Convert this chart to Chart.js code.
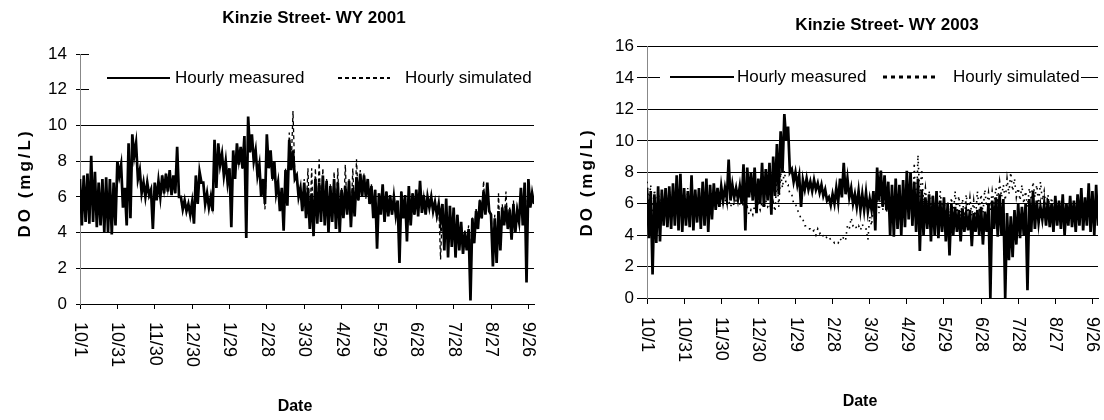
<!DOCTYPE html>
<html>
<head>
<meta charset="utf-8">
<title>Kinzie Street DO</title>
<script src="https://cdn.jsdelivr.net/npm/chart.js@4.4.1/dist/chart.umd.min.js"></script>
<style>
  html, body { margin: 0; padding: 0; background: #fff; }
  #wrap { position: relative; width: 1104px; height: 420px; }
  canvas { position: absolute; top: 0; }
  #c2001 { left: 0; }
  #c2003 { left: 552px; }
</style>
</head>
<body>
<div id="wrap">
  <canvas id="c2001" width="552" height="420"></canvas>
  <canvas id="c2003" width="552" height="420"></canvas>
</div>
<script>
"use strict";

// date ticks, every 30 days from Oct 1
var tickLabels = ["10/1", "10/31", "11/30", "12/30", "1/29", "2/28", "3/30",
	"4/29", "5/29", "6/28", "7/28", "8/27", "9/26"];

// WY 2001 - high / low DO (mg/L) for each 3-day block
var measured2001Hi = [
	7.0, 7.2, 7.3, 8.3, 7.4, 6.8, 7.0, 7.1, 7.0, 6.8,
	8.0, 7.8, 6.5, 9.0, 9.5, 9.0, 7.5, 6.8, 6.8, 6.4,
	6.8, 6.9, 7.2, 7.3, 7.5, 7.2, 8.8, 6.0, 5.8, 5.6,
	5.7, 7.2, 7.4, 6.8, 6.2, 6.0, 9.2, 9.0, 8.4, 8.0,
	7.6, 8.6, 9.0, 8.8, 9.4, 10.5, 9.5, 8.6, 7.8, 7.0,
	9.5, 8.6, 8.0, 6.8, 6.5, 7.5, 9.2, 8.6, 7.2, 6.5,
	6.8, 6.5, 6.2, 7.0, 6.8, 7.2, 6.9, 6.6, 7.0, 6.8,
	6.4, 6.6, 6.9, 6.5, 7.1, 7.3, 7.2, 7.0, 6.6, 6.4,
	6.2, 6.7, 6.3, 6.1, 6.0, 5.8, 6.3, 6.1, 6.6, 6.2,
	6.4, 6.9, 6.1, 6.0, 6.0, 5.7, 5.6, 5.6, 5.9, 5.5,
	5.4, 5.0, 4.6, 4.0, 4.2, 4.8, 5.2, 5.8, 6.3, 6.8,
	5.0, 4.8, 5.2, 5.4, 5.5, 5.3, 5.6, 5.2, 6.5, 6.8,
	7.0, 6.2
];
var measured2001Lo = [
	4.4, 4.6, 4.5, 4.6, 4.3, 4.4, 4.0, 4.0, 3.9, 4.4,
	7.2, 5.4, 4.4, 4.8, 8.3, 7.0, 6.2, 6.0, 6.1, 4.2,
	5.8, 6.0, 6.2, 6.3, 6.1, 6.2, 6.0, 5.3, 5.2, 5.0,
	4.5, 5.6, 6.8, 5.6, 5.4, 5.2, 6.5, 7.8, 7.2, 6.8,
	4.3, 7.0, 7.8, 7.6, 3.7, 8.5, 8.0, 7.2, 6.0, 5.6,
	7.6, 7.0, 6.2, 5.2, 4.1, 5.5, 7.5, 7.0, 6.0, 5.2,
	4.8, 4.2, 3.8, 4.5, 4.6, 4.4, 4.0, 4.6, 4.2, 4.0,
	4.8, 5.0, 4.3, 4.9, 5.8, 6.0, 6.0, 5.6, 4.8, 3.1,
	5.0, 4.6, 4.9, 5.0, 5.0, 2.3, 4.8, 3.5, 4.4, 5.0,
	4.9, 5.1, 5.0, 5.4, 5.2, 5.0, 4.6, 3.0, 2.6, 3.2,
	2.6, 3.0, 2.8, 3.0, 0.2, 3.4, 4.2, 4.8, 5.0, 5.2,
	2.1, 2.3, 3.0, 4.4, 4.2, 3.6, 4.0, 4.6, 4.4, 1.2,
	5.4, 5.6
];
var simulated2001Hi = [
	6.8, 7.0, 7.1, 7.6, 7.2, 6.6, 6.8, 6.9, 6.8, 6.6,
	7.8, 7.6, 6.4, 8.8, 9.3, 8.8, 7.4, 6.7, 6.7, 6.3,
	6.7, 6.8, 7.0, 7.1, 7.3, 7.0, 8.2, 5.9, 5.7, 5.5,
	5.6, 7.0, 7.3, 6.7, 6.1, 5.8, 9.0, 8.8, 8.3, 7.9,
	7.5, 8.5, 8.9, 8.7, 9.2, 10.2, 9.4, 8.5, 7.7, 6.9,
	9.3, 8.5, 7.9, 6.7, 6.4, 7.6, 9.6, 10.8, 7.2, 6.4,
	7.0, 7.6, 7.6, 7.6, 8.1, 7.6, 7.0, 6.7, 7.4, 7.6,
	6.5, 7.8, 7.0, 7.6, 8.1, 7.5, 7.3, 7.0, 6.7, 6.4,
	6.2, 6.6, 6.3, 6.1, 6.0, 5.8, 6.3, 6.1, 6.5, 6.2,
	6.3, 6.7, 6.1, 6.0, 5.9, 5.7, 5.5, 5.5, 5.8, 5.4,
	5.3, 5.0, 4.6, 4.2, 4.4, 4.9, 5.4, 5.9, 6.9, 6.6,
	5.2, 5.0, 6.2, 5.6, 6.3, 5.4, 5.8, 5.4, 6.4, 6.7,
	6.9, 6.1
];
var simulated2001Lo = [
	5.0, 4.8, 4.7, 4.8, 4.5, 4.6, 4.3, 4.2, 4.1, 4.6,
	7.0, 5.6, 4.6, 5.0, 8.2, 7.1, 6.3, 6.1, 6.0, 5.6,
	5.9, 6.1, 6.2, 6.3, 6.2, 6.2, 6.1, 5.3, 5.2, 5.1,
	4.8, 5.7, 6.8, 5.7, 5.5, 5.3, 6.6, 7.8, 7.2, 6.8,
	4.6, 7.0, 7.8, 7.5, 4.2, 8.4, 8.0, 7.1, 6.0, 5.3,
	7.6, 6.9, 6.2, 5.3, 4.4, 5.6, 7.6, 7.2, 6.0, 5.3,
	5.0, 4.6, 4.2, 4.6, 4.8, 4.5, 4.3, 4.8, 4.4, 4.2,
	4.9, 5.1, 4.5, 5.0, 5.8, 6.0, 5.9, 5.6, 5.0, 3.6,
	5.1, 4.8, 5.0, 5.0, 5.1, 3.0, 4.9, 3.9, 4.6, 5.0,
	5.0, 5.2, 5.1, 5.4, 5.2, 4.8, 2.5, 3.2, 2.9, 3.4,
	2.9, 3.2, 3.0, 3.2, 3.0, 3.6, 4.3, 4.8, 5.0, 5.2,
	2.8, 2.9, 3.4, 4.5, 4.3, 3.9, 4.2, 4.6, 4.6, 4.8,
	5.4, 5.6
];

// WY 2003 - high / low DO (mg/L) for each 3-day block
var measured2003Hi = [
	7.0, 6.8, 6.6, 7.1, 6.9, 7.0, 7.1, 7.3, 7.8, 7.9,
	7.0, 6.8, 7.8, 6.9, 7.0, 7.4, 7.6, 7.2, 7.3, 7.0,
	7.1, 7.0, 8.8, 7.2, 7.0, 7.1, 8.5, 8.3, 8.0, 8.3,
	7.6, 8.6, 8.2, 8.6, 9.0, 9.8, 10.6, 11.7, 10.9, 8.2,
	8.0, 7.8, 7.5, 7.6, 7.4, 7.5, 7.3, 7.2, 6.9, 6.4,
	6.6, 7.0, 7.6, 8.6, 7.6, 7.0, 6.6, 6.8, 6.6, 6.7,
	6.3, 6.8, 8.3, 8.1, 7.8, 7.4, 7.2, 7.6, 7.2, 7.5,
	8.1, 8.0, 7.4, 7.6, 6.9, 6.4, 6.6, 6.5, 6.8, 6.2,
	6.4, 6.0, 6.0, 5.8, 5.6, 5.7, 5.4, 5.6, 5.4, 5.6,
	5.8, 5.5, 6.0, 6.2, 6.4, 6.6, 6.3, 5.4, 5.2, 5.6,
	6.0, 5.8, 6.0, 6.3, 6.8, 6.2, 5.8, 6.0, 6.3, 6.0,
	6.5, 6.2, 6.6, 6.0, 6.5, 6.2, 6.6, 7.0, 6.4, 7.3,
	6.8, 7.2
];
var measured2003Lo = [
	3.8, 1.5, 3.5, 3.6, 4.6, 4.5, 4.4, 4.6, 4.3, 4.2,
	4.6, 4.5, 4.3, 4.8, 4.4, 4.6, 4.2, 5.0, 5.6, 5.8,
	6.2, 6.3, 6.2, 6.4, 6.3, 6.0, 4.3, 6.4, 6.2, 5.4,
	6.0, 5.8, 6.2, 5.3, 6.5, 6.6, 8.0, 10.0, 8.0, 7.4,
	7.2, 5.8, 6.9, 6.9, 6.8, 6.9, 6.7, 6.5, 6.2, 5.9,
	6.0, 6.1, 6.4, 6.6, 6.4, 6.0, 5.8, 5.6, 5.6, 5.5,
	5.6, 4.3, 6.2, 5.8, 5.6, 4.0, 3.9, 4.4, 4.0, 4.5,
	5.0, 4.6, 4.2, 3.0, 4.0, 4.4, 3.6, 4.0, 3.8, 4.2,
	3.6, 2.7, 4.0, 4.2, 3.6, 4.2, 4.3, 3.3, 4.2, 4.0,
	3.4, 4.2, 0.0, 4.4, 3.9, 4.0, 0.0, 2.4, 2.6, 3.4,
	3.8, 4.0, 0.5, 4.2, 4.4, 4.8, 5.0, 4.6, 4.5, 4.2,
	4.6, 4.4, 4.0, 4.6, 4.5, 4.2, 4.6, 4.3, 4.6, 4.2,
	4.0, 4.6
];
var simulated2003Hi = [
	7.4, 7.2, 6.9, 7.0, 6.8, 6.9, 7.0, 6.8, 7.0, 6.9,
	6.8, 7.0, 7.1, 6.8, 6.9, 7.0, 6.9, 7.0, 6.6, 6.5,
	6.4, 6.3, 6.2, 6.1, 6.2, 6.0, 6.0, 5.8, 5.6, 5.9,
	6.0, 6.1, 6.2, 6.0, 6.1, 7.8, 8.0, 8.1, 7.2, 6.6,
	6.0, 5.4, 5.0, 4.6, 4.4, 4.3, 4.4, 4.2, 4.0, 3.9,
	3.7, 3.6, 3.8, 3.9, 4.6, 5.1, 4.7, 4.6, 4.7, 4.4,
	5.2, 5.8, 6.6, 6.8, 6.4, 6.2, 6.6, 7.0, 6.8, 7.4,
	7.6, 8.0, 8.6, 9.1, 8.2, 7.0, 6.8, 6.6, 6.4, 6.8,
	6.5, 6.2, 6.4, 6.8, 6.5, 6.3, 6.6, 6.4, 6.2, 6.8,
	6.6, 6.9, 6.7, 6.8, 7.0, 7.4, 7.2, 7.6, 8.0, 7.6,
	7.0, 7.2, 6.8, 7.0, 7.4, 7.2, 7.4, 6.8, 6.6, 6.4,
	6.2, 6.0, 6.1, 5.9, 6.0, 5.8, 6.1, 6.0, 5.9, 6.2,
	6.0, 6.1
];
var simulated2003Lo = [
	5.8, 5.0, 5.6, 5.4, 5.2, 5.6, 5.4, 5.6, 5.5, 5.6,
	5.4, 5.5, 5.6, 5.5, 5.8, 5.6, 5.8, 5.9, 6.0, 5.8,
	6.0, 5.9, 5.8, 5.9, 6.0, 5.8, 5.6, 5.3, 5.3, 5.5,
	5.6, 5.7, 5.8, 5.6, 5.5, 5.8, 7.0, 7.2, 6.6, 6.0,
	5.6, 5.0, 4.6, 4.4, 4.2, 4.0, 4.1, 3.9, 3.8, 3.7,
	3.5, 3.5, 3.6, 3.7, 4.4, 4.6, 4.4, 4.3, 4.4, 3.7,
	4.6, 5.0, 5.4, 5.6, 5.4, 5.2, 5.0, 5.2, 4.8, 5.4,
	5.2, 4.6, 5.0, 6.4, 6.0, 5.6, 5.4, 5.0, 5.2, 5.4,
	5.0, 4.8, 5.2, 5.4, 5.2, 5.0, 5.4, 5.2, 5.0, 5.6,
	5.4, 5.8, 5.6, 6.0, 6.2, 6.4, 6.2, 6.6, 6.8, 6.4,
	6.2, 6.0, 5.8, 6.2, 6.4, 6.0, 6.2, 5.8, 5.6, 5.4,
	5.5, 5.4, 5.3, 5.2, 5.3, 5.2, 5.4, 5.3, 5.2, 5.4,
	5.3, 5.5
];

var FONT = "'Liberation Sans', Arial, sans-serif";
Chart.defaults.font.family = FONT;
Chart.defaults.color = "#000";

// hourly swing: each 3-day block runs up to its high, then down to its low
function swing(hi, lo) {
	var pts = [];
	for (var i = 0; i < hi.length; i++) {
		pts.push({ x: i * 3, y: hi[i] });
		pts.push({ x: i * 3 + 1.5, y: lo[i] });
	}
	return pts;
}

// titles, legend box and the downward-reading date labels
var figText = {
	id: "figText",
	beforeDatasetsDraw: function(chart, args, o) {
		var ctx = chart.ctx;
		var lg = o.legend;
		ctx.save();
		ctx.fillStyle = "#fff";
		ctx.fillRect(lg.box[0], lg.box[1], lg.box[2], lg.box[3]);
		ctx.strokeStyle = "#000";
		ctx.fillStyle = "#000";
		ctx.font = "17px " + FONT;
		ctx.textBaseline = "middle";
		lg.items.forEach(function(it) {
			ctx.lineWidth = it.width;
			ctx.setLineDash(it.dash);
			ctx.beginPath();
			ctx.moveTo(it.x0, lg.y);
			ctx.lineTo(it.x1, lg.y);
			ctx.stroke();
			ctx.fillText(it.text, it.tx, lg.y);
		});
		ctx.restore();
	},
	afterDraw: function(chart, args, o) {
		var ctx = chart.ctx;
		ctx.save();
		ctx.fillStyle = "#000";
		ctx.textAlign = "center";
		ctx.textBaseline = "middle";
		ctx.font = "bold 17px " + FONT;
		ctx.fillText(o.title, o.titleX, o.titleY);
		ctx.font = "bold 16px " + FONT;
		ctx.fillText("Date", o.dateX, o.dateY);

		// y title, bottom to top, spaced out
		ctx.save();
		ctx.translate(o.yTitleX, o.yTitleY);
		ctx.rotate(-Math.PI / 2);
		ctx.font = "bold 17px " + FONT;
		ctx.letterSpacing = "3px";
		ctx.fillText("DO (mg/L)", 0, 0);
		ctx.restore();

		// date labels turned clockwise
		var xs = chart.scales.x;
		ctx.font = "18px " + FONT;
		ctx.textAlign = "left";
		xs.ticks.forEach(function(t, i) {
			var px = xs.getPixelForTick(i);
			ctx.save();
			ctx.translate(px, o.tickTop);
			ctx.rotate(Math.PI / 2);
			ctx.fillText(tickLabels[Math.round(t.value / 30)], 0, 0);
			ctx.restore();
		});
		ctx.restore();
	}
};

function makeChart(id, cfg) {
	return new Chart(document.getElementById(id), {
		type: "line",
		data: {
			datasets: [
				{
					label: "Hourly measured",
					data: swing(cfg.mHi, cfg.mLo),
					borderColor: "#000",
					borderWidth: 2.7,
					pointRadius: 0,
					tension: 0
				},
				{
					label: "Hourly simulated",
					data: swing(cfg.sHi, cfg.sLo),
					borderColor: "#000",
					borderWidth: cfg.simWidth,
					borderDash: cfg.simDash,
					pointRadius: 0,
					tension: 0
				}
			]
		},
		options: {
			responsive: false,
			animation: false,
			layout: { padding: cfg.pad },
			plugins: {
				legend: { display: false },
				tooltip: { enabled: false },
				figText: cfg.text
			},
			scales: {
				x: {
					type: "linear",
					min: 0,
					max: 364.5,
					ticks: { display: false, stepSize: 30, includeBounds: false },
					grid: { drawOnChartArea: false, color: "#000", tickLength: cfg.xTick },
					border: { color: "#000" },
					afterFit: function(s) { s.height = 0; }
				},
				y: {
					min: 0,
					max: cfg.yMax,
					ticks: { stepSize: 2, padding: cfg.yPad, font: { size: 17 } },
					grid: { color: "#000", tickLength: cfg.yTick },
					border: { color: "#888" },
					afterFit: function(s) { s.width = cfg.yWidth; }
				}
			}
		},
		plugins: [figText]
	});
}

var chart2001 = makeChart("c2001", {
	mHi: measured2001Hi, mLo: measured2001Lo,
	sHi: simulated2001Hi, sLo: simulated2001Lo,
	simWidth: 1.3, simDash: [4, 3],
	pad: { left: 0, right: 18, top: 54, bottom: 116 },
	yWidth: 80, yMax: 14, yTick: 4, yPad: 9, xTick: 5,
	text: {
		title: "Kinzie Street- WY 2001", titleX: 314, titleY: 18,
		dateX: 295, dateY: 407, yTitleX: 25, yTitleY: 183, tickTop: 322,
		legend: {
			box: [89, 49, 447, 58], y: 78,
			items: [
				{ x0: 107, x1: 170, tx: 175, text: "Hourly measured", width: 2, dash: [] },
				{ x0: 338, x1: 390, tx: 405, text: "Hourly simulated", width: 2, dash: [4, 3] }
			]
		}
	}
});

var chart2003 = makeChart("c2003", {
	mHi: measured2003Hi, mLo: measured2003Lo,
	sHi: simulated2003Hi, sLo: simulated2003Lo,
	simWidth: 1.6, simDash: [1.6, 4.4],
	pad: { left: 0, right: 6, top: 46.5, bottom: 122 },
	yWidth: 95, yMax: 16, yTick: 10, yPad: 3, xTick: 6,
	text: {
		title: "Kinzie Street- WY 2003", titleX: 335, titleY: 25,
		dateX: 308, dateY: 402, yTitleX: 35, yTitleY: 182, tickTop: 317,
		legend: {
			box: [108, 62, 421, 32], y: 77,
			items: [
				{ x0: 118, x1: 182, tx: 185, text: "Hourly measured", width: 2, dash: [] },
				{ x0: 331, x1: 385, tx: 401, text: "Hourly simulated", width: 3, dash: [4, 4] }
			]
		}
	}
});
</script>
</body>
</html>
